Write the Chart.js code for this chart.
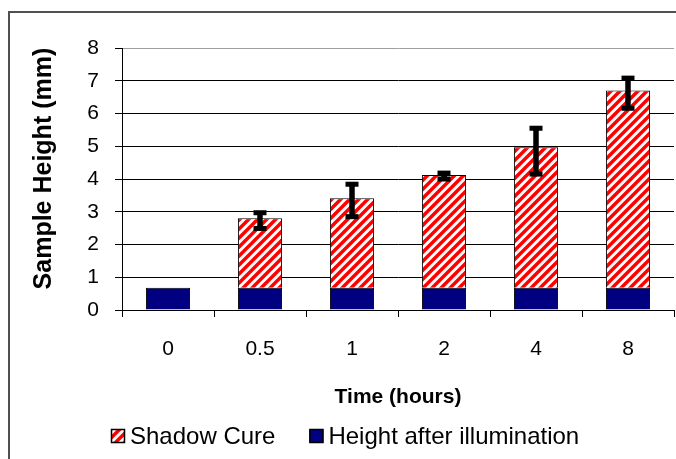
<!DOCTYPE html>
<html>
<head>
<meta charset="utf-8">
<script src="https://cdn.jsdelivr.net/npm/chart.js@4.4.0/dist/chart.umd.min.js"></script>
<style>
  html, body { margin: 0; padding: 0; background: #fff; }
  #wrap { width: 676px; height: 459px; }
</style>
</head>
<body>
<div id="wrap"><canvas id="chart" width="676" height="459"></canvas></div>
<script>
// ---- data ----
const timeLabels = ['0', '0.5', '1', '2', '4', '8'];
const illuminated = [0.68, 0.68, 0.68, 0.68, 0.68, 0.68];   // Height after illumination
const shadowCure = [null, 2.12, 2.73, 3.44, 4.29, 6.02];      // stacked on top
const errPlus = [0, 0.17, 0.43, 0.06, 0.58, 0.38];
const errMinus = [0, 0.31, 0.56, 0.12, 0.82, 0.54];
const yTicks = [0, 1, 2, 3, 4, 5, 6, 7, 8];

const FONT = "'Liberation Sans', Arial, sans-serif";

// red / white diagonal hatch
function makeHatch() {
    const s = 9;
    const c = document.createElement('canvas');
    c.width = s; c.height = s;
    const g = c.getContext('2d');
    g.fillStyle = '#ffffff';
    g.fillRect(0, 0, s, s);
    g.strokeStyle = '#ff0000';
    g.lineWidth = 3.5;
    g.beginPath();
    g.moveTo(-2, s + 2); g.lineTo(s + 2, -2);
    g.moveTo(-2, 2); g.lineTo(2, -2);
    g.moveTo(s - 2, s + 2); g.lineTo(s + 2, s - 2);
    g.stroke();
    return g.createPattern(c, 'repeat');
}
const hatch = makeHatch();

// outer frame (left and top edges are visible)
const framePlugin = {
    id: 'frame',
    beforeDraw(chart) {
        const ctx = chart.ctx;
        ctx.save();
        ctx.fillStyle = '#fff';
        ctx.fillRect(0, 0, chart.width, chart.height);
        ctx.strokeStyle = '#505050';
        ctx.lineWidth = 2;
        ctx.beginPath();
        ctx.moveTo(9, chart.height);
        ctx.lineTo(9, 12);
        ctx.lineTo(chart.width, 12);
        ctx.stroke();
        ctx.restore();
    }
};

// error bars on the stacked total
const errorBarPlugin = {
    id: 'errorBars',
    afterDatasetsDraw(chart) {
        const ctx = chart.ctx;
        const y = chart.scales.y;
        const meta = chart.getDatasetMeta(1);
        ctx.save();
        ctx.strokeStyle = '#000';
        ctx.fillStyle = '#000';
        ctx.lineWidth = 5.5;
        meta.data.forEach((bar, i) => {
            if (shadowCure[i] == null) return;
            const total = illuminated[i] + shadowCure[i];
            const yTop = y.getPixelForValue(total + errPlus[i]);
            const yBot = y.getPixelForValue(total - errMinus[i]);
            const x = bar.x;
            ctx.beginPath();
            ctx.moveTo(x, yTop);
            ctx.lineTo(x, yBot);
            ctx.stroke();
            ctx.fillRect(x - 6.5, yTop - 2.5, 13, 5);
            ctx.fillRect(x - 6.5, yBot - 2.5, 13, 5);
        });
        ctx.restore();
    }
};

// legend drawn below the axis title (Shadow Cure first)
const legendPlugin = {
    id: 'bottomLegend',
    afterDraw(chart) {
        const ctx = chart.ctx;
        const items = [chart.data.datasets[1], chart.data.datasets[0]];
        let x = 111;
        const yMid = 436;
        ctx.save();
        ctx.font = '24px ' + FONT;
        ctx.textBaseline = 'middle';
        ctx.textAlign = 'left';
        items.forEach(ds => {
            ctx.fillStyle = ds.backgroundColor;
            ctx.fillRect(x, yMid - 7, 14, 14);
            ctx.strokeStyle = '#000';
            ctx.lineWidth = 1.5;
            ctx.strokeRect(x + 0.5, yMid - 6.5, 13, 13);
            ctx.fillStyle = '#000';
            ctx.fillText(ds.label, x + 19, yMid + 1);
            x += 19 + ctx.measureText(ds.label).width + 34;
        });
        ctx.restore();
    }
};

new Chart(document.getElementById('chart'), {
    type: 'bar',
    data: {
        labels: timeLabels,
        datasets: [
            {
                label: 'Height after illumination',
                data: illuminated,
                backgroundColor: '#000080',
                borderColor: '#000',
                borderWidth: 1,
                barPercentage: 0.48,
                categoryPercentage: 1
            },
            {
                label: 'Shadow Cure',
                data: shadowCure,
                backgroundColor: hatch,
                borderColor: '#000',
                borderWidth: 1,
                barPercentage: 0.48,
                categoryPercentage: 1
            }
        ]
    },
    options: {
        responsive: false,
        animation: false,
        layout: { padding: { top: 48, left: 0, right: 2, bottom: 49 } },
        plugins: {
            legend: { display: false },
            tooltip: { enabled: false }
        },
        scales: {
            x: {
                stacked: true,
                offset: true,
                grid: {
                    offset: true,
                    drawOnChartArea: false,
                    color: '#000',
                    tickLength: 7
                },
                border: { color: '#000', width: 1 },
                ticks: {
                    color: '#000',
                    padding: 20,
                    font: { family: FONT, size: 21 }
                },
                title: {
                    display: true,
                    text: 'Time (hours)',
                    color: '#000',
                    padding: { top: 0, bottom: 0 },
                    font: { family: FONT, size: 21, weight: 'bold' }
                },
                afterFit(scale) { scale.height = 100; }
            },
            y: {
                stacked: true,
                min: 0,
                max: 8,
                afterBuildTicks(scale) {
                    scale.ticks = yTicks.map(v => ({ value: v }));
                },
                grid: {
                    color: ctx => ctx.tick && ctx.tick.value === 8 ? '#a0a0a0' : '#000',
                    tickColor: '#000',
                    tickLength: 7,
                    lineWidth: 1
                },
                border: { color: '#000', width: 1 },
                ticks: {
                    color: '#000',
                    padding: 16,
                    font: { family: FONT, size: 21 }
                },
                title: {
                    display: true,
                    // leading spaces nudge the visible text upward, as in the source
                    text: '   Sample Height (mm)',
                    color: '#000',
                    padding: { top: 29, bottom: 0 },
                    font: { family: FONT, size: 25, weight: 'bold' }
                },
                afterFit(scale) { scale.width = 122; }
            }
        }
    },
    plugins: [framePlugin, errorBarPlugin, legendPlugin]
});
</script>
</body>
</html>
